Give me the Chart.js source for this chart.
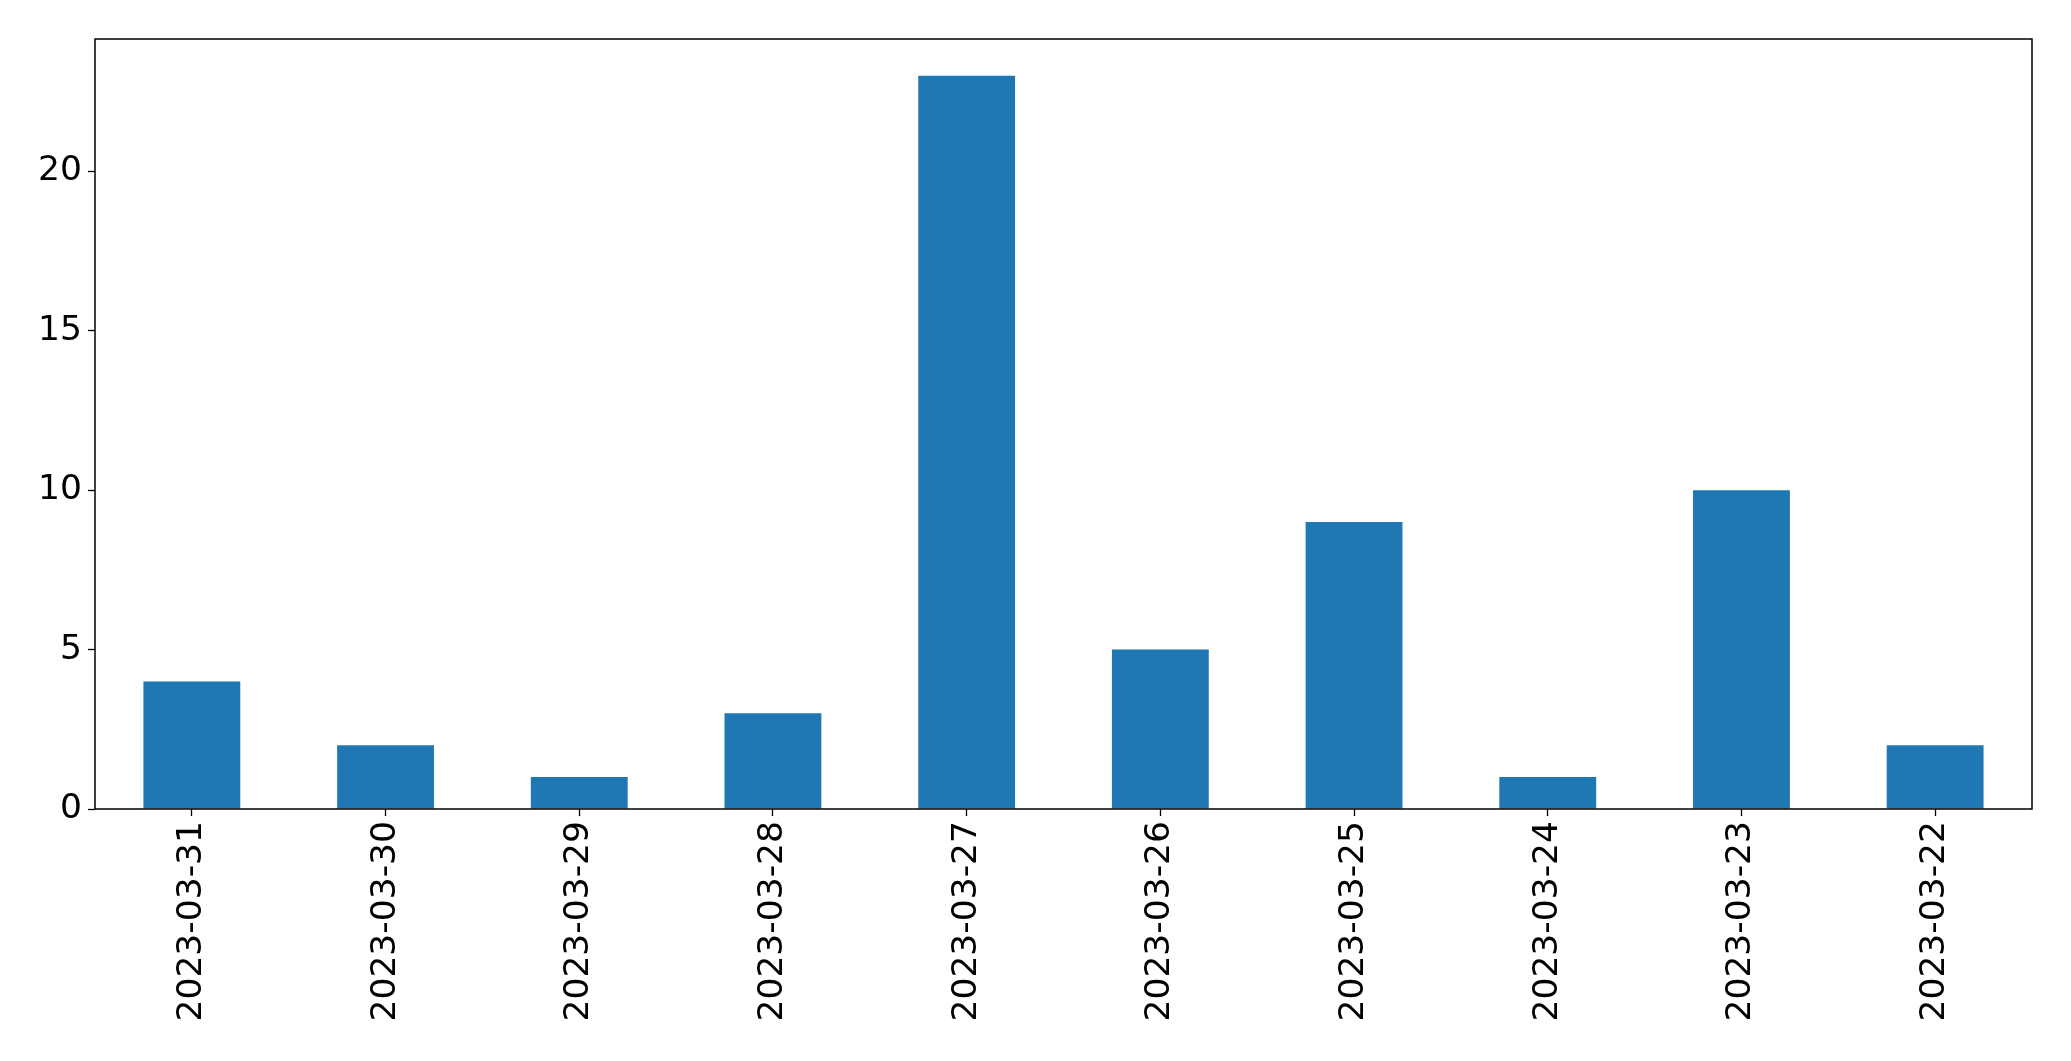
<!DOCTYPE html>
<html>
<head>
    <title>Daily counts</title>
    <script src="https://cdn.jsdelivr.net/npm/chart.js"></script>
    <style>
        body {
            margin: 0;
            padding: 0;
            background: white;
        }
        #chart-container {
            width: 2071px;
            height: 1061px;
        }
    </style>
</head>
<body>

<div id="chart-container">
    <canvas id="countChart"></canvas>
</div>

<script>
    const dates = ['2023-03-31', '2023-03-30', '2023-03-29', '2023-03-28', '2023-03-27',
                   '2023-03-26', '2023-03-25', '2023-03-24', '2023-03-23', '2023-03-22'];
    const counts = [4, 2, 1, 3, 23, 5, 9, 1, 10, 2];
    const yTicks = [0, 5, 10, 15, 20];

    // box around the plot area, like matplotlib spines
    const frame = {
        id: 'frame',
        afterDraw(chart) {
            const a = chart.chartArea;
            const ctx = chart.ctx;
            ctx.save();
            ctx.strokeStyle = '#000';
            ctx.lineWidth = 1.5;
            ctx.strokeRect(a.left, a.top, a.right - a.left, a.bottom - a.top);
            ctx.restore();
        }
    };

    new Chart(document.getElementById('countChart'), {
        type: 'bar',
        data: {
            labels: dates,
            datasets: [{
                data: counts,
                backgroundColor: '#1f77b4',
                borderWidth: 0,
                barPercentage: 0.5,
                categoryPercentage: 1.0
            }]
        },
        options: {
            responsive: true,
            maintainAspectRatio: false,
            animation: false,
            layout: {
                padding: { left: 0, right: 39, top: 39, bottom: 0 }
            },
            plugins: {
                legend: { display: false },
                tooltip: { enabled: false }
            },
            scales: {
                x: {
                    offset: true,
                    grid: {
                        offset: false,
                        drawOnChartArea: false,
                        tickLength: 7,
                        tickColor: '#000',
                        tickWidth: 1.3
                    },
                    border: { display: false },
                    ticks: {
                        color: '#000',
                        font: { family: 'DejaVu Sans', size: 34.5 },
                        maxRotation: 90,
                        minRotation: 90,
                        padding: 5,
                        autoSkip: false
                    },
                    afterFit(scale) {
                        scale.height = 252;
                    }
                },
                y: {
                    min: 0,
                    max: Math.max(...counts) * 1.05,
                    grid: {
                        drawOnChartArea: false,
                        tickLength: 7,
                        tickColor: '#000',
                        tickWidth: 1.3
                    },
                    border: { display: false },
                    afterBuildTicks(scale) {
                        scale.ticks = yTicks.map(v => ({ value: v }));
                    },
                    ticks: {
                        color: '#000',
                        font: { family: 'DejaVu Sans', size: 34.5 },
                        padding: 6
                    },
                    afterFit(scale) {
                        scale.width = 95;
                    }
                }
            }
        },
        plugins: [frame]
    });
</script>

</body>
</html>
